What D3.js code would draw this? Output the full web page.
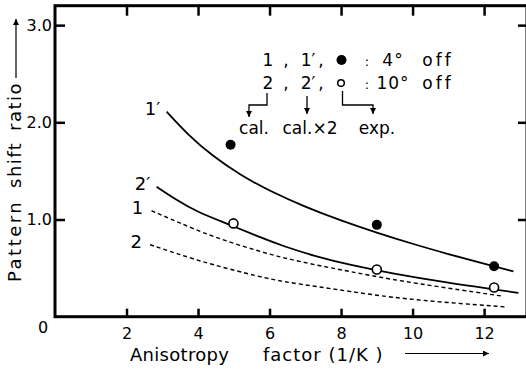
<!DOCTYPE html>
<html>
<head>
<meta charset="utf-8">
<script src="https://cdn.jsdelivr.net/npm/d3@7"></script>
<style>
body { margin: 0; background: #fff; }
text { font-family: "DejaVu Sans", sans-serif; fill: #000; }
</style>
</head>
<body>
<div id="chart"></div>
<script>
let width = 526, height = 369;

// tick values
let xTicks = [2, 4, 6, 8, 10, 12];
let yTicks = [1, 2, 3];

// curves: [anisotropy factor, pattern shift ratio]
let curve1p = [[3.12,2.11],[3.70,1.878],[4.40,1.654],[5.20,1.454],[6.00,1.294],[7.00,1.129],[8.00,0.989],[9.00,0.864],[10.00,0.749],[11.00,0.644],[12.00,0.544],[12.82,0.466]];
let curve2p = [[2.84,1.337],[3.40,1.20],[3.96,1.08],[4.90,0.945],[5.73,0.818],[6.39,0.725],[7.32,0.617],[8.25,0.532],[9.37,0.448],[10.96,0.35],[12.26,0.282],[12.96,0.245]];
let curve1 = [[2.70,1.09],[3.40,0.98],[4.34,0.83],[5.73,0.67],[6.39,0.605],[7.32,0.53],[8.25,0.465],[9.37,0.385],[10.96,0.295],[12.54,0.21]];
let curve2 = [[2.66,0.74],[3.40,0.65],[4.34,0.54],[5.73,0.41],[6.39,0.36],[7.32,0.31],[8.25,0.26],[9.37,0.20],[10.96,0.145],[12.63,0.10]];

// experimental points
let exp4 = [[4.91,1.77],[9.0,0.945],[12.28,0.52]];
let exp10 = [[4.99,0.96],[9.0,0.485],[12.28,0.30]];

let curveNames = ["1′", "2′", "1", "2"];

let x = d3.scaleLinear().domain([0, 13.2]).range([55, 527]);
let y = d3.scaleLinear().domain([0, 3.2]).range([316.7, 5.7]);

let svg = d3.select("#chart").append("svg")
.attr("width", width)
.attr("height", height);

let defs = svg.append("defs");
defs.append("marker")
.attr("id", "arr")
.attr("markerUnits", "userSpaceOnUse")
.attr("markerWidth", 8).attr("markerHeight", 8)
.attr("refX", 6).attr("refY", 3)
.attr("orient", "auto")
.append("path")
.attr("d", "M0,0L6,3L0,6Z")
.attr("fill", "#000");

// frame
svg.append("rect")
.attr("x", x(0)).attr("y", y(3.2))
.attr("width", x(13.2) - x(0)).attr("height", y(0) - y(3.2))
.attr("fill", "none").attr("stroke", "#000").attr("stroke-width", 3);

// axes
let xAxis = svg.append("g")
.attr("transform", "translate(0," + y(0) + ")")
.call(d3.axisBottom(x).tickValues(xTicks).tickFormat(d3.format("d")).tickSizeInner(-8).tickSizeOuter(0).tickPadding(10.5));

let xTop = svg.append("g")
.attr("transform", "translate(0," + y(3.2) + ")")
.call(d3.axisTop(x).tickValues(xTicks).tickFormat("").tickSizeInner(-10).tickSizeOuter(0));

let yAxis = svg.append("g")
.attr("transform", "translate(" + x(0) + ",0)")
.call(d3.axisLeft(y).tickValues(yTicks).tickFormat(d3.format(".1f")).tickSizeInner(-10).tickSizeOuter(0).tickPadding(3));

let yRight = svg.append("g")
.attr("transform", "translate(" + x(13.2) + ",0)")
.call(d3.axisRight(y).tickValues(yTicks).tickFormat("").tickSizeInner(-9).tickSizeOuter(0));

svg.selectAll(".domain").remove();
svg.selectAll(".tick line").attr("stroke", "#000").attr("stroke-width", 2.5);
svg.selectAll(".tick text").style("font-size", "16px").attr("fill", "#000");

svg.append("text")
.attr("x", 43).attr("y", 333)
.attr("text-anchor", "middle")
.style("font-size", "16px")
.text("0");

// curves
let line = d3.line()
.x(d => x(d[0]))
.y(d => y(d[1]))
.curve(d3.curveBasis);

let curves = [curve1p, curve2p, curve1, curve2];

svg.selectAll(".curve")
.data(curves)
.enter()
.append("path")
.attr("d", line)
.attr("fill", "none")
.attr("stroke", "#000")
.attr("stroke-width", (d, i) => i < 2 ? 1.8 : 1.4)
.attr("stroke-dasharray", (d, i) => i < 2 ? null : "4,3")
.classed("curve", true);

svg.selectAll(".curveLabel")
.data(curves)
.enter()
.append("text")
.attr("x", d => x(d[0][0]) - 14)
.attr("y", d => y(d[0][1]) + 3.5)
.attr("text-anchor", "middle")
.style("font-size", "18px")
.text((d, i) => curveNames[i])
.classed("curveLabel", true);

// points
svg.selectAll(".filled")
.data(exp4)
.enter()
.append("circle")
.attr("cx", d => x(d[0]))
.attr("cy", d => y(d[1]))
.attr("r", 5)
.attr("fill", "#000")
.classed("filled", true);

svg.selectAll(".open")
.data(exp10)
.enter()
.append("circle")
.attr("cx", d => x(d[0]))
.attr("cy", d => y(d[1]))
.attr("r", 4.5)
.attr("fill", "#fff")
.attr("stroke", "#000")
.attr("stroke-width", 1.6)
.classed("open", true);

// legend
let legend = svg.append("g").style("font-size", "17px");
let rows = [
  {y: 66, a: "1", b: "1′", deg: "4°"},
  {y: 89, a: "2", b: "2′", deg: "10°"}
];
rows.forEach(r => {
  legend.append("text").attr("x", 268).attr("y", r.y).attr("text-anchor", "middle").text(r.a);
  legend.append("text").attr("x", 286).attr("y", r.y).attr("text-anchor", "middle").text(",");
  legend.append("text").attr("x", 308).attr("y", r.y).attr("text-anchor", "middle").text(r.b);
  legend.append("text").attr("x", 321).attr("y", r.y).attr("text-anchor", "middle").text(",");
  legend.append("text").attr("x", 367).attr("y", r.y).attr("text-anchor", "middle").style("font-size", "13px").text(":");
  legend.append("text").attr("x", 393).attr("y", r.y).attr("text-anchor", "middle").style("letter-spacing", "1px").text(r.deg);
  legend.append("text").attr("x", 438).attr("y", r.y).attr("text-anchor", "middle").style("letter-spacing", "3px").text("off");
});
legend.append("circle").attr("cx", 341.5).attr("cy", 60).attr("r", 5).attr("fill", "#000");
legend.append("circle").attr("cx", 341).attr("cy", 83).attr("r", 3.3).attr("fill", "none").attr("stroke", "#000").attr("stroke-width", 1.5);

legend.append("path").attr("d", "M267,93V105H249V117").attr("fill", "none").attr("stroke", "#000").attr("stroke-width", 1.3).attr("marker-end", "url(#arr)");
legend.append("path").attr("d", "M307,96V114").attr("fill", "none").attr("stroke", "#000").attr("stroke-width", 1.3).attr("marker-end", "url(#arr)");
legend.append("path").attr("d", "M342.5,91V105H373V114").attr("fill", "none").attr("stroke", "#000").attr("stroke-width", 1.3).attr("marker-end", "url(#arr)");

legend.append("text").attr("x", 254).attr("y", 134).attr("text-anchor", "middle").text("cal.");
legend.append("text").attr("x", 310).attr("y", 134).attr("text-anchor", "middle").text("cal.×2");
legend.append("text").attr("x", 377).attr("y", 134).attr("text-anchor", "middle").text("exp.");

// axis titles
svg.append("text").attr("x", 130).attr("y", 361).style("font-size", "18px").style("letter-spacing", "0.3px").text("Anisotropy");
svg.append("text").attr("x", 263).attr("y", 361).style("font-size", "18px").style("letter-spacing", "1px").text("factor (1/K )");
svg.append("line").attr("x1", 405).attr("y1", 353.5).attr("x2", 489).attr("y2", 353.5)
.attr("stroke", "#000").attr("stroke-width", 1.2).attr("marker-end", "url(#arr)");

let yTitle = svg.append("g").style("font-size", "18px");
yTitle.append("text").attr("transform", "translate(21,282) rotate(-90)").style("letter-spacing", "2.5px").text("Pattern");
yTitle.append("text").attr("transform", "translate(21,188) rotate(-90)").style("letter-spacing", "1.5px").text("shift");
yTitle.append("text").attr("transform", "translate(21,131) rotate(-90)").style("letter-spacing", "1.5px").text("ratio");
svg.append("line").attr("x1", 16).attr("y1", 78).attr("x2", 16).attr("y2", 19)
.attr("stroke", "#000").attr("stroke-width", 1.2).attr("marker-end", "url(#arr)");
</script>
</body>
</html>
